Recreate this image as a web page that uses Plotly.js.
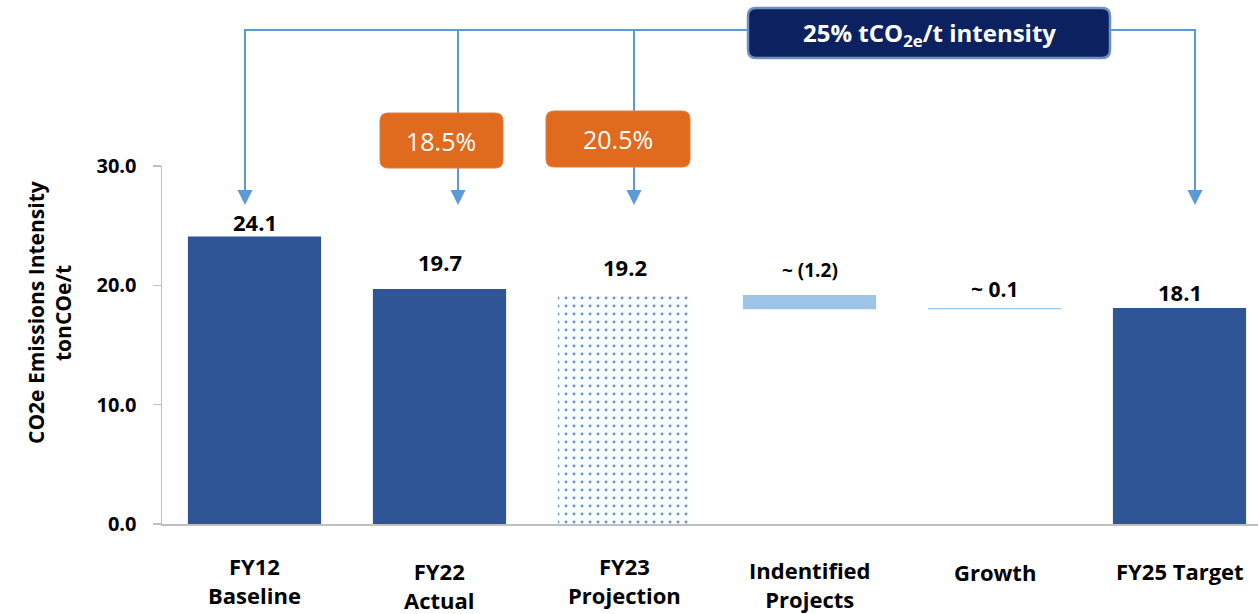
<!DOCTYPE html>
<html>
<head>
<meta charset="utf-8">
<script src="https://cdn.plot.ly/plotly-3.0.1.min.js"></script>
<style>html,body{margin:0;padding:0;background:#fff;}#chart{width:1258px;height:614px;}</style>
</head>
<body>
<div id="chart"></div>
<script>
// ---- data ----
const categories = ['FY12<br>Baseline', 'FY22<br>Actual', 'FY23<br>Projection', 'Indentified<br>Projects', 'Growth', 'FY25 Target'];
const values = [24.1, 19.7, 19.2, -1.2, 0.1, 18.1];
const measures = ['absolute', 'absolute', 'projection', 'relative', 'relative', 'total'];
const yTicks = [0, 10, 20, 30];
const reductionLabels = ['18.5%', '20.5%'];
const targetLabel = '25% tCO<sub>2e</sub>/t intensity';
const yTitleLines = ['CO2e Emissions Intensity', 'tonCOe/t'];

// ---- waterfall geometry from data ----
const bases = [], heights = [], tops = [], labels = [];
let running = 0;
values.forEach((v, i) => {
  if (measures[i] === 'relative') {
    const next = running + v;
    bases.push(Math.min(running, next));
    heights.push(Math.abs(v));
    tops.push(Math.max(running, next));
    running = next;
    labels.push('~ ' + (v < 0 ? '(' + Math.abs(v).toFixed(1) + ')' : v.toFixed(1)));
  } else {
    running = v;
    bases.push(0);
    heights.push(v);
    tops.push(v);
    labels.push(v.toFixed(1));
  }
});
const isProj = measures.map(m => m === 'projection');
const idx = categories.map((c, i) => i);

// ---- styles ----
const FONT = '"Open Sans", "Noto Sans", sans-serif';
const darkBlue = '#2F5597', lightBlue = '#9DC3E6', lineBlue = '#5B9BD5';
const barColors = measures.map(m => m === 'relative' ? lightBlue : (m === 'projection' ? 'rgba(0,0,0,0)' : darkBlue));
const labelShift = [14, 27, 28, 25, 19, 16];
const labelSize = [22, 22, 22, 19, 21, 22];
const catLabelY = [580, 585, 580, 584, 572, 571];

// pixel -> paper helpers (plot area: x 162..1258, y 166..524)
const L = 162, R = 1258, T = 166, B = 524;
const X = px => (px - L) / (R - L);
const Y = py => (B - py) / (B - T);

function roundRect(x0, y0, x1, y1, r) {
  return 'M' + X(x0 + r) + ',' + Y(y0) +
    ' L' + X(x1 - r) + ',' + Y(y0) +
    ' Q' + X(x1) + ',' + Y(y0) + ' ' + X(x1) + ',' + Y(y0 + r) +
    ' L' + X(x1) + ',' + Y(y1 - r) +
    ' Q' + X(x1) + ',' + Y(y1) + ' ' + X(x1 - r) + ',' + Y(y1) +
    ' L' + X(x0 + r) + ',' + Y(y1) +
    ' Q' + X(x0) + ',' + Y(y1) + ' ' + X(x0) + ',' + Y(y1 - r) +
    ' L' + X(x0) + ',' + Y(y0 + r) +
    ' Q' + X(x0) + ',' + Y(y0) + ' ' + X(x0 + r) + ',' + Y(y0) + ' Z';
}
function tri(cx, tipY) {
  return 'M' + X(cx - 7.5) + ',' + Y(tipY - 15) + ' L' + X(cx + 7.5) + ',' + Y(tipY - 15) +
    ' L' + X(cx) + ',' + Y(tipY) + ' Z';
}

const shapes = [];
const line = (x0, y0, x1, y1) => shapes.push({type: 'line', xref: 'paper', yref: 'paper',
  x0: X(x0), y0: Y(y0), x1: X(x1), y1: Y(y1), line: {color: lineBlue, width: 2}});
const topY = 30, arrowTip = 205;
const drops = [245, 458, 634, 1195];
line(drops[0], topY, drops[3], topY);
drops.forEach(d => {
  line(d, topY - 1, d, arrowTip - 14);
  shapes.push({type: 'path', xref: 'paper', yref: 'paper', path: tri(d, arrowTip),
    fillcolor: lineBlue, line: {width: 0}});
});
shapes.push({type: 'path', xref: 'paper', yref: 'paper', path: roundRect(748, 8, 1110, 58, 8),
  fillcolor: '#0C2260', line: {color: '#6F8FC2', width: 2.5}});
shapes.push({type: 'path', xref: 'paper', yref: 'paper', path: roundRect(380, 113, 503, 168, 8),
  fillcolor: '#E06A1E', line: {color: '#E37A3A', width: 1}});
shapes.push({type: 'path', xref: 'paper', yref: 'paper', path: roundRect(546, 111, 690, 167, 8),
  fillcolor: '#E06A1E', line: {color: '#E37A3A', width: 1}});

const annotations = [];
const paperText = (px, py, text, font, extra) => annotations.push(Object.assign({
  x: X(px), y: Y(py), xref: 'paper', yref: 'paper', xanchor: 'center', yanchor: 'middle',
  text: text, showarrow: false, font: font}, extra || {}));
// value labels
labels.forEach((t, i) => annotations.push({x: i, y: tops[i], xref: 'x', yref: 'y', text: '<b>' + t + '</b>',
  showarrow: false, xanchor: 'center', yanchor: 'middle', yshift: labelShift[i],
  font: {family: FONT, size: labelSize[i], color: '#000'}}));
// category labels
categories.forEach((c, i) => annotations.push({x: i, y: Y(catLabelY[i]), xref: 'x', yref: 'paper',
  text: '<b>' + c + '</b>', showarrow: false, xanchor: 'center', yanchor: 'middle', align: 'center',
  font: {family: FONT, size: 22, color: '#000'}}));
// y title (two lines)
paperText(36, 313, '<b>' + yTitleLines[0] + '</b>', {family: FONT, size: 21, color: '#000'}, {textangle: -90});
paperText(63, 313, '<b>' + yTitleLines[1] + '</b>', {family: FONT, size: 21, color: '#000'}, {textangle: -90});
// box texts
paperText(929, 34, '<b>' + targetLabel + '</b>', {family: FONT, size: 24, color: '#fff'});
paperText(441, 141, reductionLabels[0], {family: FONT, size: 25, color: '#fff'});
paperText(618, 139, reductionLabels[1], {family: FONT, size: 25, color: '#fff'});

const mainTrace = {
  type: 'bar', x: idx, y: heights, base: bases, width: 0.72,
  marker: {color: barColors, line: {width: 0}}, hoverinfo: 'skip'
};
const projTrace = {
  type: 'bar',
  x: idx.filter(i => isProj[i]),
  y: heights.filter((h, i) => isProj[i]),
  base: bases.filter((b, i) => isProj[i]),
  width: 0.72,
  marker: {color: '#ffffff', line: {width: 0},
    pattern: {shape: '.', fgcolor: lineBlue, bgcolor: '#ffffff', size: 8, solidity: 0.1, fgopacity: 1}},
  hoverinfo: 'skip'
};

const layout = {
  width: 1258, height: 614,
  margin: {l: L, r: 1258 - R, t: T, b: 614 - B, pad: 0},
  paper_bgcolor: '#fff', plot_bgcolor: '#fff',
  showlegend: false, barmode: 'overlay',
  xaxis: {range: [-0.5, 5.5 - (1272 - R) / 185], showticklabels: false, ticks: '', showgrid: false,
    zeroline: false, showline: true, linecolor: '#BFBFBF', linewidth: 1.5, fixedrange: true},
  yaxis: {range: [0, 30], tickvals: yTicks, tickformat: '.1f', ticks: 'outside', ticklen: 8,
    tickcolor: '#BFBFBF', tickwidth: 1.5, showline: true, linecolor: '#BFBFBF', linewidth: 1.5,
    showgrid: false, zeroline: false, ticklabelstandoff: 12,
    tickfont: {family: FONT, size: 20, color: '#000', weight: 'bold'}},
  shapes: shapes,
  annotations: annotations
};

Plotly.newPlot('chart', [mainTrace, projTrace], layout, {staticPlot: true, displayModeBar: false});
</script>
</body>
</html>
